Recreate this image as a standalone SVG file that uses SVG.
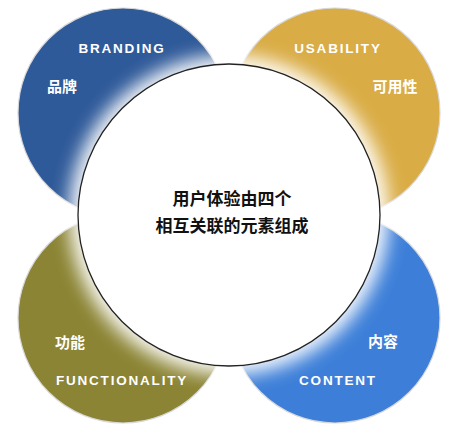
<svg xmlns="http://www.w3.org/2000/svg" width="461" height="437" viewBox="0 0 461 437">
  <defs>
    <style>
      .petal { stroke: #d8d8d8; stroke-width: 1.2; }
      .en { font-family: "Liberation Sans", Arial, sans-serif; font-weight: bold; font-size: 13.5px; letter-spacing: 1.8px; fill: #ffffff; text-anchor: middle; }
      .cn { font-family: "Noto Sans CJK SC", "Liberation Sans", sans-serif; font-weight: bold; font-size: 15px; fill: #ffffff; text-anchor: middle; }
      .title { font-family: "Noto Sans CJK SC", "Liberation Sans", sans-serif; font-weight: bold; font-size: 17px; fill: #111111; text-anchor: middle; }
    </style>
    <filter id="glow" x="-30%" y="-30%" width="160%" height="160%">
      <feGaussianBlur stdDeviation="9"/>
    </filter>
  </defs>
  <rect width="461" height="437" fill="#ffffff"/>
  <g id="branding">
    <circle class="petal" cx="123" cy="113" r="105" fill="#2f5a99"/>
    <text class="en" x="122" y="53">BRANDING</text>
    <text class="cn" x="62" y="92">品牌</text>
  </g>
  <g id="usability">
    <circle class="petal" cx="335" cy="113" r="105" fill="#d9ac45"/>
    <text class="en" x="338" y="53">USABILITY</text>
    <text class="cn" x="395" y="92">可用性</text>
  </g>
  <g id="functionality">
    <circle class="petal" cx="123" cy="318" r="105" fill="#8b8434"/>
    <text class="en" x="122" y="385">FUNCTIONALITY</text>
    <text class="cn" x="70" y="348">功能</text>
  </g>
  <g id="content">
    <circle class="petal" cx="335" cy="318" r="105" fill="#3d7fd8"/>
    <text class="en" x="338" y="385">CONTENT</text>
    <text class="cn" x="383" y="347">内容</text>
  </g>
  <g id="connectors"></g>
  <g id="center">
    <circle cx="229" cy="215" r="160" fill="#ffffff" filter="url(#glow)" opacity="0.95"/>
    <circle cx="229" cy="215" r="151" fill="#ffffff" stroke="#222222" stroke-width="1.3"/>
    <text class="title" x="232" y="205">用户体验由四个</text>
    <text class="title" x="232" y="232">相互关联的元素组成</text>
  </g>
</svg>
